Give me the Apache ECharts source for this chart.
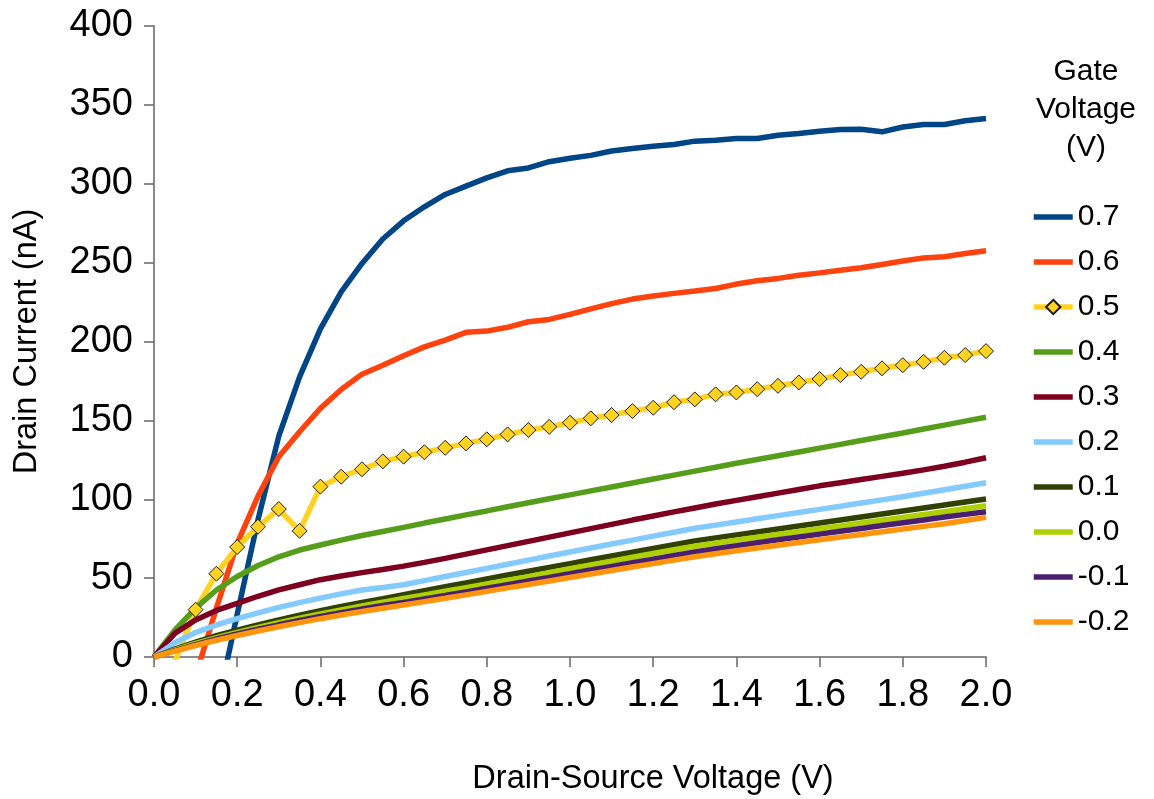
<!DOCTYPE html>
<html>
<head>
<meta charset="utf-8">
<title>Drain current vs drain-source voltage</title>
<script src="https://cdn.jsdelivr.net/npm/echarts@6/dist/echarts.min.js"></script>
<style>
  html, body { margin: 0; padding: 0; background: #fff; }
  #chart { width: 1154px; height: 799px; }
</style>
</head>
<body>
<div id="chart"></div>
<script>
// drain-source voltage (V), one sample every 0.05 V
const vds = [0.00, 0.05, 0.10, 0.15, 0.20, 0.25, 0.30, 0.35, 0.40, 0.45,
  0.50, 0.55, 0.60, 0.65, 0.70, 0.75, 0.80, 0.85, 0.90, 0.95,
  1.00, 1.05, 1.10, 1.15, 1.20, 1.25, 1.30, 1.35, 1.40, 1.45,
  1.50, 1.55, 1.60, 1.65, 1.70, 1.75, 1.80, 1.85, 1.90, 1.95, 2.00]

// drain current (nA) per gate voltage
const g07 = [-230, -160, -95, -34, 27, 87, 140, 177.6, 208, 231.5,
  249.5, 265, 276.5, 285.4, 293.2, 298.5, 303.7, 308.2, 310, 314,
  316.2, 318, 320.8, 322.4, 323.8, 324.9, 327, 327.6, 328.7, 328.7,
  330.8, 331.9, 333.3, 334.4, 334.6, 332.9, 336, 337.6, 337.6, 339.9, 341.4]
const g06 = [-70, -42, -12, 31, 72, 102, 127, 142.8, 157.6, 169.6,
  179.3, 185, 191, 196.6, 200.9, 205.8, 206.6, 209, 212.5, 214,
  217.2, 220.7, 224, 226.9, 228.8, 230.5, 232, 233.6, 236.4, 238.5,
  240, 242, 243.5, 245.2, 246.7, 248.8, 251, 253, 253.7, 255.8, 257.5]
const g05 = [-6, -3, 30, 52.8, 69.7, 82.6, 93.8, 80, 108, 114.3,
  119, 124, 127, 129.8, 132.6, 135.4, 138, 141.1, 143.9, 145.9,
  148.5, 151.3, 153.4, 155.9, 158, 161.5, 163.3, 166.5, 167.7, 169.8,
  171.9, 174, 176.2, 178.7, 180.8, 183, 185, 187.1, 189.7, 191.4, 193.9]
const g04 = [0, 17, 31, 42.5, 51, 58, 63.5, 67.8, 71, 74.1,
  77, 79.6, 82.2, 84.9, 87.5, 90.1, 92.6, 95.2, 97.8, 100.3,
  102.8, 105.3, 107.8, 110.3, 112.8, 115.3, 117.8, 120.3, 122.8, 125.2,
  127.6, 130, 132.4, 134.8, 137.2, 139.6, 142, 144.5, 147, 149.5, 152]
const g03 = [0, 15, 23.5, 29.5, 34, 38.5, 42.5, 45.8, 49, 51.3,
  53.5, 55.5, 57.6, 60, 62.5, 65.2, 67.9, 70.6, 73.3, 76,
  78.7, 81.4, 84.1, 86.8, 89.4, 92, 94.5, 97, 99.3, 101.6,
  103.9, 106.2, 108.5, 110.5, 112.5, 114.5, 116.5, 118.6, 120.9, 123.5, 126.3]
const g02 = [0, 9, 15.5, 20.3, 24.3, 28, 31.5, 34.5, 37.3, 40,
  42.5, 44, 45.8, 48.4, 51, 53.6, 56.2, 58.8, 61.4, 64,
  66.6, 69.1, 71.6, 74.1, 76.6, 79.1, 81.6, 83.6, 85.6, 87.6,
  89.6, 91.6, 93.6, 95.6, 97.6, 99.6, 101.6, 103.8, 106, 108.2, 110.5]
const g01 = [0, 5, 9.5, 13.5, 17, 20.3, 23.5, 26.5, 29.3, 32,
  34.6, 37, 39.5, 42, 44.5, 47, 49.5, 52, 54.4, 56.8,
  59.2, 61.6, 64, 66.4, 68.8, 71.2, 73.6, 75.5, 77.4, 79.3,
  81.2, 83.1, 85, 86.9, 88.8, 90.7, 92.6, 94.5, 96.4, 98.3, 100.1]
const g00 = [0, 4.5, 8.6, 12.3, 15.6, 18.7, 21.7, 24.6, 27.3, 29.9,
  32.4, 34.8, 37.1, 39.4, 41.7, 44, 46.3, 48.6, 50.9, 53.4,
  55.9, 58.4, 60.8, 63.2, 65.6, 68, 70.2, 72.2, 74.1, 75.9,
  77.7, 79.5, 81.3, 83.1, 84.9, 86.7, 88.5, 90.3, 92.1, 94, 95.9]
const gm01 = [0, 4, 7.9, 11.4, 14.6, 17.6, 20.4, 23.1, 25.7, 28.1,
  30.4, 32.6, 34.6, 36.8, 39, 41.3, 43.6, 45.9, 48.2, 50.5,
  52.8, 55.1, 57.4, 59.7, 62, 64.3, 66.6, 68.6, 70.5, 72.4,
  74.3, 76.1, 77.9, 79.7, 81.5, 83.3, 85.1, 86.9, 88.7, 90.4, 92.1]
const gm02 = [0, 3.7, 7.3, 10.6, 13.6, 16.5, 19.2, 21.8, 24.3, 26.6,
  28.8, 30.9, 33, 35.1, 37.2, 39.4, 41.6, 43.8, 46, 48.2,
  50.4, 52.6, 54.8, 57, 59.2, 61.4, 63.6, 65.5, 67.3, 69.1,
  70.9, 72.6, 74.3, 76, 77.7, 79.4, 81.1, 82.8, 84.5, 86.5, 88.5]

const gateLabels = ['0.7', '0.6', '0.5', '0.4', '0.3', '0.2', '0.1', '0.0', '-0.1', '-0.2']
const curves = [g07, g06, g05, g04, g03, g02, g01, g00, gm01, gm02]
const colors = ['#004586', '#ff420e', '#ffd320', '#579d1c', '#7e0021',
  '#83caff', '#314004', '#aecf00', '#4b1f6f', '#ff950e']
const MARKED = '0.5'

const FONT = "'Liberation Sans', Arial, sans-serif"
// plain thick bar for the legend of the unmarked curves
const LINE_ICON = 'path://M0,0H39V5.5H0Z'

const chart = echarts.init(document.getElementById('chart'))

const series = curves.map((vals, i) => {
  const withMarkers = gateLabels[i] === MARKED
  return {
    name: gateLabels[i],
    type: 'line',
    data: vals.map((v, k) => [vds[k], v]),
    clip: true,
    symbol: withMarkers ? 'diamond' : 'none',
    symbolSize: 15,
    showSymbol: withMarkers,
    lineStyle: { color: colors[i], width: 5.5 },
    itemStyle: withMarkers
      ? { color: colors[i], borderColor: '#1a1a1a', borderWidth: 1 }
      : { color: colors[i] },
    emphasis: { disabled: true }
  }
})

chart.setOption({
  animation: false,
  textStyle: { fontFamily: FONT },
  grid: { left: 154, right: 168, top: 26, bottom: 142, outerBoundsMode: 'none', containLabel: false },
  xAxis: {
    type: 'value',
    min: 0,
    max: 2,
    interval: 0.2,
    name: 'Drain-Source Voltage (V)',
    nameLocation: 'middle',
    nameGap: 106,
    nameTextStyle: { fontSize: 32.5, color: '#000', fontFamily: FONT, padding: [0, 0, 0, 166] },
    axisLine: { show: true, lineStyle: { color: '#8c8c8c', width: 2 } },
    axisTick: { show: true, inside: false, length: 10, lineStyle: { color: '#666', width: 1.5 } },
    axisLabel: { fontSize: 38, color: '#000', margin: 20, formatter: v => v.toFixed(1) },
    splitLine: { show: false }
  },
  yAxis: {
    type: 'value',
    min: 0,
    max: 400,
    interval: 50,
    name: 'Drain Current (nA)',
    nameLocation: 'middle',
    nameRotate: 90,
    nameGap: 110,
    nameTextStyle: { fontSize: 32.5, color: '#000', fontFamily: FONT },
    axisLine: { show: true, lineStyle: { color: '#8c8c8c', width: 2 } },
    axisTick: { show: true, inside: false, length: 10, lineStyle: { color: '#666', width: 1.5 } },
    axisLabel: { fontSize: 38, color: '#000', margin: 21 },
    splitLine: { show: false }
  },
  legend: {
    orient: 'vertical',
    left: 1031,
    top: 200,
    itemWidth: 39,
    itemHeight: 18,
    itemGap: 11,
    padding: 0,
    selectedMode: false,
    textStyle: { fontSize: 30, color: '#000', fontFamily: FONT, lineHeight: 34 },
    data: gateLabels.map(g => g === MARKED
      ? { name: g, lineStyle: { width: 5.5, color: colors[gateLabels.indexOf(g)] } }
      : { name: g, icon: LINE_ICON })
  },
  graphic: [{
    type: 'text',
    x: 1086,
    y: 53,
    style: {
      text: 'Gate\nVoltage\n(V)',
      align: 'center',
      verticalAlign: 'top',
      font: '30px ' + FONT,
      lineHeight: 38,
      fill: '#000'
    }
  }],
  series
})
</script>
</body>
</html>
